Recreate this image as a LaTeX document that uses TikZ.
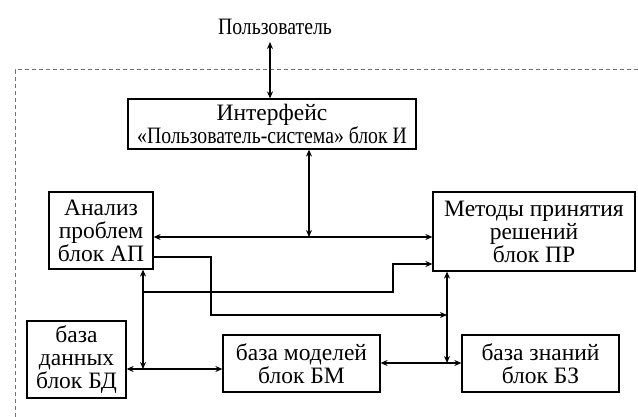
\documentclass[tikz,border=0pt]{standalone}
\usepackage{fontspec}
\setmainfont{Liberation Serif}
\newfontfamily\narrowserif[FakeStretch=0.84]{Liberation Serif}
\usetikzlibrary{arrows.meta}
\begin{document}
\begin{tikzpicture}[x=1pt,y=-1pt,
  box/.style={draw, line width=1.2pt, inner sep=0pt, align=center,
    font=\fontsize{23.5}{23}\selectfont},
  lbl/.style={inner sep=0pt, font=\fontsize{23.5}{23}\selectfont\narrowserif},
  link/.style={line width=1.2pt},
  arr/.style={link, -{Stealth[length=7pt,width=6pt]}},
  dbl/.style={link, {Stealth[length=7pt,width=6pt]}-{Stealth[length=7pt,width=6pt]}},
  frame/.style={line width=1pt, draw=black!55, dash pattern=on 4pt off 3pt}]
\useasboundingbox (0,0) rectangle (638,417);

% system boundary
\draw[frame] (638,70) -- (15,70) -- (15,417);

% blocks
\node[lbl] (user) at (275,27) {Пользователь};
\node[box, minimum width=288pt, minimum height=50pt] (ui) at (272,124)
  {Интерфейс\\{\narrowserif «Пользователь-система» блок И}};
\node[box, minimum width=104pt, minimum height=77pt] (ap) at (101,230.5)
  {Анализ\\проблем\\блок АП};
\node[box, minimum width=202pt, minimum height=79pt] (pr) at (534,231.5)
  {Методы принятия\\решений\\блок ПР};
\node[box, minimum width=99pt, minimum height=77pt] (bd) at (76.5,359.5)
  {база\\данных\\блок БД};
\node[box, minimum width=157pt, minimum height=57pt] (bm) at (301.5,363.5)
  {база моделей\\блок БМ};
\node[box, minimum width=157pt, minimum height=57pt] (bz) at (540.5,363.5)
  {база знаний\\блок БЗ};

% junction points of the connectors
\coordinate (u0) at (270,42);
\coordinate (j1) at (309,237);
\coordinate (a1) at (211,257);
\coordinate (k1) at (447,315);
\coordinate (v1) at (143,369);
\coordinate (s1) at (143,292);
\coordinate (s2) at (393,264);
\coordinate (v2) at (447,363);

% connectors
\draw[dbl] (u0) -- (u0 |- ui.north);
\draw[dbl] (j1 |- ui.south) -- (j1);
\draw[dbl] (j1 -| ap.east) -- (j1 -| pr.west);
\draw[arr] (a1 -| ap.east) -- (a1) |- (k1);
\draw[dbl] (v1 |- ap.south) -- (v1);
\draw[arr] (s1) -| (s2) -- (s2 -| pr.west);
\draw[dbl] (v2 |- pr.south) -- (v2);
\draw[dbl] (v1 -| bd.east) -- (v1 -| bm.west);
\draw[dbl] (v2 -| bm.east) -- (v2 -| bz.west);
\end{tikzpicture}
\end{document}
